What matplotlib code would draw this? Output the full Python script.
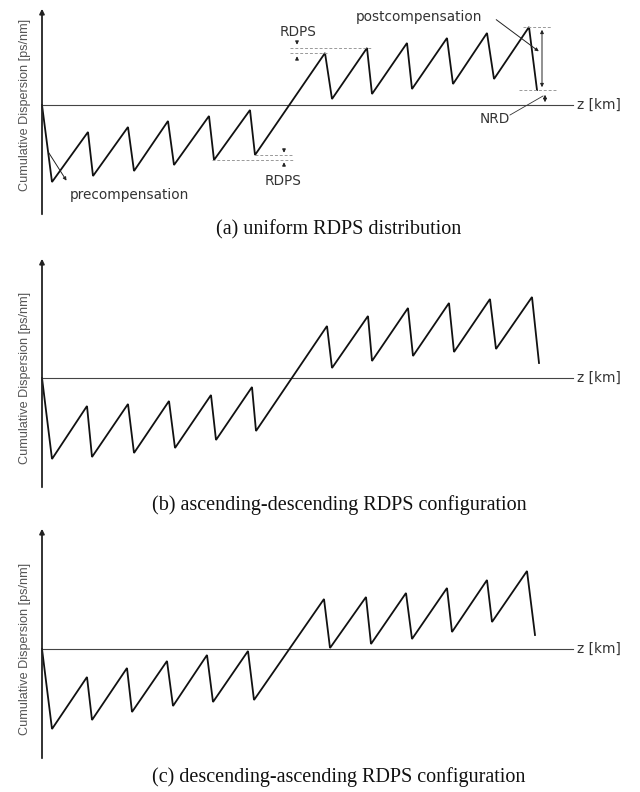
import numpy as np
import matplotlib.pyplot as plt

# vertex positions along the link (z, in drawing units) for the three panels
z_a = [0, 10, 46, 51, 86, 92, 126, 132, 167, 172, 208, 213, 283, 290, 325, 330, 365, 370, 405, 411, 445, 452, 487, 495]
z_b = [0, 10, 45, 50, 86, 92, 127, 133, 169, 174, 210, 214, 285, 290, 326, 330, 366, 371, 407, 412, 448, 454, 490, 497]
z_c = [0, 10, 45, 50, 85, 90, 125, 131, 165, 171, 206, 212, 282, 288, 324, 329, 364, 370, 405, 410, 445, 450, 485, 493]

# cumulative dispersion at each vertex
disp_a = [0, -77, -27, -71, -22, -66, -16, -60, -11, -55, -5, -50, 52, 6, 57, 11, 62, 16, 67, 21, 72, 26, 78, 15]
disp_b = [0, -81, -28, -79, -26, -75, -23, -70, -17, -62, -9, -53, 52, 10, 62, 17, 70, 22, 75, 26, 79, 29, 81, 15]
disp_c = [0, -80, -28, -71, -19, -63, -12, -57, -6, -53, -2, -51, 50, 1, 52, 5, 56, 10, 61, 17, 69, 27, 78, 14]

captions = ["(a) uniform RDPS distribution",
            "(b) ascending-descending RDPS configuration",
            "(c) descending-ascending RDPS configuration"]

W, H = 640, 792
fig = plt.figure(figsize=(W / 100, H / 100), dpi=100)

# (top, bottom, zero line, caption row) of each panel band in pixels
bands = [(0, 250, 105, 230), (250, 520, 378, 505), (520, 792, 649, 777)]
ax0 = 42  # pixel column of the vertical axis

sans = ['DejaVu Sans']
ylab_font = ['Liberation Sans', 'DejaVu Sans']
serif = ['Liberation Serif', 'DejaVu Serif']
txt = '#333333'
fs = 9.8

axes = []
for (top, bot, zero, caprow), z, d, cap in zip(bands, [z_a, z_b, z_c], [disp_a, disp_b, disp_c], captions):
    ax = fig.add_axes([0, 1 - bot / H, 1, (bot - top) / H])
    ax.set_xlim(-ax0, W - ax0)
    ax.set_ylim(zero - bot, zero - top)
    ax.axis('off')
    # axes
    ax.plot([0, 531], [0, 0], color='#444444', lw=0.8)
    ax.annotate('', xy=(0, zero - top - 6), xytext=(0, -112),
                arrowprops=dict(arrowstyle='-|>', lw=1.3, color='#222222', mutation_scale=7))
    ax.text(535, 0, 'z [km]', family=sans, fontsize=fs, color=txt, va='center', ha='left')
    ax.text(-17, 0, 'Cumulative Dispersion [ps/nm]', family=ylab_font, fontsize=9.1, color='#555555',
            rotation=90, va='center', ha='center')
    # dispersion map
    ax.plot(z, d, color='#111111', lw=1.3, solid_joinstyle='miter')
    ax.text(297, zero - caprow, cap, family=serif, fontsize=14.5,
            ha='center', va='center', color='#111111')
    axes.append(ax)

# annotations on panel (a)
ax = axes[0]
z, d = z_a, disp_a
dash = dict(color='#999999', lw=0.7, ls=(0, (3, 2)))
arr = dict(arrowstyle='-|>', lw=0.7, color='#222222', mutation_scale=5)
dbl = dict(arrowstyle='<|-|>', lw=0.7, color='#222222', mutation_scale=5)

# RDPS above (first two upper peaks)
p1, p2 = d[12], d[14]
ax.plot([248, 330], [p2, p2], **dash)
ax.plot([248, 286], [p1, p1], **dash)
ax.annotate('', xy=(255, p2 + 0.5), xytext=(255, p2 + 9), arrowprops=arr)
ax.annotate('', xy=(255, p1 - 0.5), xytext=(255, p1 - 9), arrowprops=arr)
ax.text(256, 73, 'RDPS', family=sans, fontsize=fs, color=txt, ha='center', va='center')

# RDPS below (last two lower minima)
m1, m2 = d[9], d[11]
ax.plot([z[11], 250], [m2, m2], **dash)
ax.plot([170, 251], [m1, m1], **dash)
ax.annotate('', xy=(242, m2 - 0.5), xytext=(242, m2 + 9), arrowprops=arr)
ax.annotate('', xy=(242, m1 + 0.5), xytext=(242, m1 - 9), arrowprops=arr)
ax.text(241, -76, 'RDPS', family=sans, fontsize=fs, color=txt, ha='center', va='center')

# precompensation
ax.annotate('', xy=(26, -78), xytext=(5, -45), arrowprops=arr)
ax.text(28, -90, 'precompensation', family=sans, fontsize=fs, color=txt, ha='left', va='center')

# postcompensation
top_p, last = d[-2], d[-1]
ax.plot([481, 509], [top_p, top_p], **dash)
ax.plot([477, 515], [last, last], **dash)
ax.annotate('', xy=(500, top_p), xytext=(500, last), arrowprops=dbl)
ax.annotate('', xy=(499, 52), xytext=(452, 87), arrowprops=arr)
ax.text(377, 88, 'postcompensation', family=sans, fontsize=fs, color=txt, ha='center', va='center')

# NRD
ax.annotate('', xy=(503, last - 2), xytext=(503, 0), arrowprops=dbl)
ax.plot([468, 501], [-10, 9], color='#333333', lw=0.6)
ax.text(453, -14, 'NRD', family=sans, fontsize=fs, color=txt, ha='center', va='center')

fig.savefig('out.png', dpi=100)
